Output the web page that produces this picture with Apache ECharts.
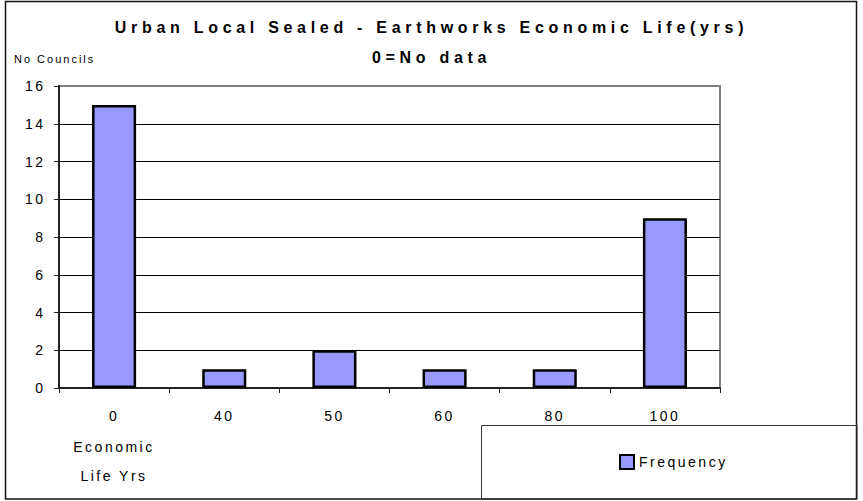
<!DOCTYPE html>
<html>
<head>
<meta charset="utf-8">
<script src="https://cdn.jsdelivr.net/npm/echarts@6/dist/echarts.min.js"></script>
<style>
  html, body { margin: 0; padding: 0; background: #fff; }
  #chart { width: 863px; height: 501px; }
  /* wide tracking of the classic spreadsheet chart fonts */
  #chart text { letter-spacing: 2.5px; }
  #chart text[style*="bold"] { letter-spacing: 4.7px; }
  #chart text[style*="11px"] { letter-spacing: 2px; }
</style>
</head>
<body>
<div id="chart"></div>
<script>
// Economic life classes (years) and number of councils in each
const categories = ['0', '40', '50', '60', '80', '100'];
const frequency = [15, 1, 2, 1, 1, 9];
const yTicks = { min: 0, max: 16, interval: 2 };

const titleLines = ['Urban Local Sealed - Earthworks Economic Life(yrs)', '0=No data'];
const yAxisTitle = 'No Councils';
const xAxisTitle = ['Economic', 'Life Yrs'];
const seriesName = 'Frequency';

const FONT = "'Liberation Sans', Arial, sans-serif";

const chart = echarts.init(document.getElementById('chart'), null, { renderer: 'svg' });

// split lines: black inside the plot, grey where the top one meets the plot border
const splitCount = (yTicks.max - yTicks.min) / yTicks.interval + 1;
const splitColors = [];
for (let i = 0; i < splitCount; i++) splitColors.push(i === splitCount - 1 ? '#808080' : '#000');

chart.setOption({
  backgroundColor: '#fff',
  animation: false,
  title: {
    text: titleLines.join('\n'),
    left: 'center',
    top: 13,
    padding: 0,
    textStyle: {
      fontFamily: FONT,
      fontSize: 16,
      fontWeight: 'bold',
      color: '#000',
      lineHeight: 29.5
    }
  },
  grid: {
    left: 59,
    right: 143,
    top: 86,
    bottom: 113,
    show: true,
    backgroundColor: '#fff',
    borderColor: '#808080',
    borderWidth: 2
  },
  legend: {
    data: [seriesName],
    left: 619,
    top: 454,
    padding: 0,
    itemWidth: 14,
    itemHeight: 14,
    icon: 'rect',
    itemStyle: { color: '#9999FF', borderColor: '#000', borderWidth: 2 },
    textStyle: { fontFamily: FONT, fontSize: 14, color: '#000' }
  },
  xAxis: {
    type: 'category',
    data: categories,
    boundaryGap: true,
    axisLine: { lineStyle: { color: '#222', width: 2 } },
    axisTick: { show: true, alignWithLabel: false, length: 5, lineStyle: { color: '#222', width: 1 } },
    axisLabel: { fontFamily: FONT, fontSize: 14, color: '#000', margin: 21 },
    splitLine: { show: false }
  },
  yAxis: {
    type: 'value',
    min: yTicks.min,
    max: yTicks.max,
    interval: yTicks.interval,
    axisLine: { show: true, lineStyle: { color: '#222', width: 2 } },
    axisTick: { show: true, length: 5, lineStyle: { color: '#222', width: 1 } },
    axisLabel: { fontFamily: FONT, fontSize: 14, color: '#000', margin: 13.5 },
    splitLine: { show: true, lineStyle: { color: splitColors, width: 1 } }
  },
  series: [{
    name: seriesName,
    type: 'bar',
    data: frequency,
    barWidth: '40%',
    itemStyle: { color: '#9999FF', borderColor: '#000', borderWidth: 2.5 }
  }],
  graphic: [
    {
      type: 'rect',
      shape: { x: 5.5, y: 1.5, width: 851, height: 497.5 },
      style: { fill: 'none', stroke: '#111', lineWidth: 1.5 },
      silent: true,
      z: 100
    },
    {
      type: 'rect',
      shape: { x: 481.5, y: 425.5, width: 375.5, height: 73.5 },
      style: { fill: 'none', stroke: '#333', lineWidth: 1 },
      silent: true,
      z: 100
    },
    {
      type: 'text',
      left: 14,
      top: 53,
      style: { text: yAxisTitle, fontFamily: FONT, fontSize: 11, fill: '#000' }
    },
    {
      type: 'text',
      x: 114,
      y: 432,
      style: {
        text: xAxisTitle.join('\n'),
        fontFamily: FONT,
        fontSize: 14,
        fill: '#000',
        align: 'center',
        lineHeight: 29
      }
    }
  ]
});
</script>
</body>
</html>
